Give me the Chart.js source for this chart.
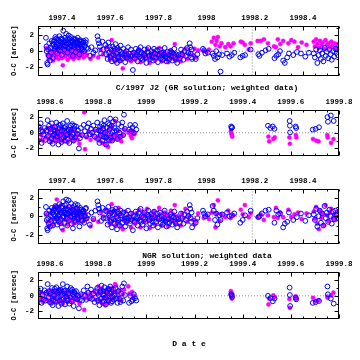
<!DOCTYPE html>
<html><head><meta charset="utf-8">
<script src="https://cdn.jsdelivr.net/npm/chart.js@4"></script>
<style>
html,body{margin:0;padding:0;background:#fff;width:360px;height:360px;overflow:hidden;position:relative}
.pane{position:absolute;left:0;width:360px}
.pane canvas{display:block}
.lbl{position:absolute;font:bold 8px 'Liberation Mono',monospace;white-space:nowrap;transform:translateX(-50%);line-height:8px;color:#000}
</style></head><body>
<div class="pane" id="p1"><canvas id="c1"></canvas></div>
<div class="pane" id="p2"><canvas id="c2"></canvas></div>
<div class="pane" id="p3"><canvas id="c3"></canvas></div>
<div class="pane" id="p4"><canvas id="c4"></canvas></div>
<div class="lbl" style="left:207px;top:84px">C/1997 J2 (GR solution; weighted data)</div>
<div class="lbl" style="left:207px;top:252px">NGR solution; weighted data</div>
<div class="lbl" style="left:189px;top:340px">D a t e</div>
<script>
// ---------- tick labels ----------
const xTicksA = [1997.4, 1997.6, 1997.8, 1998.0, 1998.2, 1998.4];
const xLabelsA = ['1997.4', '1997.6', '1997.8', '1998', '1998.2', '1998.4'];
const xTicksB = [1998.6, 1998.8, 1999.0, 1999.2, 1999.4, 1999.6, 1999.8];
const xLabelsB = ['1998.6', '1998.8', '1999', '1999.2', '1999.4', '1999.6', '1999.8'];
const yTicks = [-2, 0, 2];
const yLabels = ['-2', '0', '2'];
const perihelion = 1998.19;

// ---------- period A (1997.3 - 1998.55): blue open circles ----------
const datesA_blue = [
1997.333,1997.335,1997.338,1997.340,1997.342,1997.345,1997.347,1997.350,1997.352,1997.355,1997.357,1997.360,1997.362,1997.336,
1997.365,1997.368,1997.370,1997.372,1997.375,1997.377,1997.380,1997.382,1997.384,
1997.387,1997.389,1997.392,1997.394,1997.397,1997.399,1997.402,1997.405,1997.407,
1997.410,1997.412,1997.415,1997.417,1997.420,1997.422,1997.425,1997.427,1997.430,
1997.432,1997.435,1997.437,1997.440,1997.442,1997.445,1997.447,1997.450,1997.452,
1997.455,1997.457,1997.460,1997.462,1997.465,1997.467,1997.470,1997.472,1997.475,
1997.478,1997.480,1997.483,1997.486,1997.489,1997.492,1997.495,1997.498,1997.502,
1997.508,1997.515,1997.522,1997.530,1997.538,1997.547,1997.550,1997.553,1997.557,1997.562,1997.568,1997.572,
1997.580,1997.583,1997.586,1997.589,1997.592,1997.595,1997.598,1997.601,1997.604,
1997.607,1997.610,1997.613,1997.616,1997.619,1997.622,1997.625,1997.628,1997.631,
1997.634,1997.637,1997.640,1997.643,1997.646,1997.650,1997.654,1997.658,1997.662,
1997.666,1997.670,1997.674,1997.678,1997.682,1997.686,1997.690,1997.694,1997.698,
1997.702,1997.706,1997.710,1997.714,1997.718,1997.722,1997.726,1997.730,1997.734,
1997.738,1997.742,1997.746,1997.750,1997.754,1997.758,1997.762,1997.766,1997.770,
1997.774,1997.778,1997.782,1997.786,1997.790,1997.794,1997.798,1997.802,1997.806,
1997.810,1997.814,1997.818,1997.822,1997.826,1997.830,1997.834,1997.838,1997.842,
1997.846,1997.850,1997.854,1997.858,1997.862,1997.866,1997.870,1997.874,1997.878,
1997.884,1997.889,1997.894,1997.899,1997.904,1997.909,1997.914,1997.919,1997.924,1997.930,1997.932,1997.934,1997.936,1997.938,1997.940,1997.955,1997.962,
1997.985,1997.990,1997.995,1998.005,1998.025,1998.030,1998.035,1998.040,1998.045,1998.052,1998.058,1998.065,
1998.085,1998.095,1998.105,1998.115,
1998.140,1998.150,1998.160,1998.183,
1998.215,1998.220,1998.230,1998.245,1998.258,
1998.282,1998.290,1998.298,1998.305,1998.318,1998.325,1998.335,1998.342,1998.360,1998.375,1998.392,1998.410,1998.425,
1998.445,1998.450,1998.455,1998.460,1998.465,1998.470,1998.475,1998.480,1998.485,1998.490,1998.495,1998.500,1998.505,1998.510,1998.515,1998.520,1998.525,1998.530,1998.535,1998.540,1998.545,
1997.366,1997.371,1997.376,1997.381,1997.386,1997.391,1997.396,1997.401,1997.406,
1997.411,1997.416,1997.421,1997.426,1997.431,1997.436,1997.441,1997.446,1997.451,
1997.456,1997.461,1997.466,1997.471,1997.476,1997.481,1997.487,1997.493,1997.499,
1997.605,1997.618,1997.632,1997.645,1997.668,1997.684,1997.712,1997.728,
1997.744,1997.760,1997.776,1997.796,1997.816,1997.836,1997.856,1997.872];
const grA_blue = [
1.7,0.6,-1.5,-1.7,0.2,-0.6,1.0,-1.2,0.4,-0.2,1.3,0.8,-0.9,0.0,
0.9,1.4,0.3,1.8,0.6,1.1,-0.3,1.5,0.8,
0.1,1.9,1.2,0.5,1.6,-0.5,0.9,2.6,1.3,
0.2,1.7,0.7,2.2,1.0,-0.2,1.5,2.0,0.4,
1.2,0.8,1.8,0.1,1.4,-0.6,0.9,1.6,0.5,
1.1,-0.1,1.3,0.7,1.7,0.3,1.0,-0.4,1.4,
0.6,1.2,0.2,0.9,1.3,0.0,0.7,1.1,0.4,
0.3,-0.6,0.5,-0.2,0.1,1.9,1.4,1.0,0.6,-0.3,1.2,0.2,
0.8,-0.4,0.3,-1.0,1.1,-0.2,0.5,-0.8,0.2,
-1.3,0.6,-0.5,0.0,-1.1,0.9,-0.3,-1.5,0.4,
-0.7,0.1,-1.2,0.7,-0.4,-0.9,0.3,-0.6,-1.4,
0.0,-0.8,0.5,-0.3,-1.0,0.2,-0.6,-2.4,-0.2,
-0.9,0.3,-0.5,-1.3,0.1,-0.7,0.5,-0.2,-1.1,
-0.4,0.2,-0.8,-1.5,-0.1,0.4,-0.6,-1.0,0.0,
-0.5,-1.2,0.3,-0.3,-0.8,0.1,-1.4,-0.6,0.2,
-0.9,-0.2,-1.1,-0.4,0.4,-0.7,-1.3,-0.1,-0.5,
-1.0,0.0,-0.6,-1.2,-0.3,0.3,-0.8,-0.4,-1.5,
-0.5,-0.9,0.2,-0.4,-1.1,0.0,-0.6,0.4,-0.2,1.0,0.5,-0.3,-0.8,0.2,-1.0,-1.0,-0.4,
0.3,0.1,-0.3,-0.2,-0.3,-0.6,-1.0,0.0,-0.8,-0.4,-2.6,-0.5,
-0.3,-0.7,-0.5,-0.2,
-0.8,-0.6,-0.5,0.2,
-0.4,-0.6,-0.2,0.1,0.3,
-0.9,-0.6,-0.4,0.0,-1.2,-1.5,-0.8,-0.3,-0.5,-0.1,-0.3,-0.7,-0.2,
-0.3,-0.8,0.2,-1.5,-0.5,0.1,-1.0,-0.3,-1.3,0.4,-0.6,-0.1,-0.9,0.2,-0.4,-1.1,0.0,-0.7,0.3,-0.2,-0.5,
1.2,0.6,1.6,0.4,1.3,0.7,1.0,1.5,0.6,
1.1,1.4,0.5,0.9,1.6,1.1,0.6,1.2,0.8,
1.5,1.0,0.5,1.3,0.9,0.4,1.1,0.6,1.4,
-0.6,0.3,-0.9,-0.1,-0.4,-0.7,-0.2,-0.9,
-0.5,-0.2,-0.8,-0.4,-0.6,-0.9,-0.2,-1.1];
const ngrA_blue = [
1.0,0.3,-1.3,-1.5,-0.2,-0.8,0.6,-1.1,0.1,-0.5,0.9,0.4,-1.0,-0.4,
0.2,0.8,-0.4,1.1,-0.2,0.5,-0.9,0.9,0.1,
-0.6,1.3,0.4,-0.3,1.0,-1.2,0.0,1.6,0.6,
-0.7,1.2,0.2,1.8,0.3,-1.0,0.7,1.7,-0.4,
0.5,0.0,1.4,-0.8,0.9,-1.3,0.2,1.1,-0.5,
0.4,-0.6,0.8,-0.1,1.2,-0.3,0.5,-1.1,0.9,
0.0,0.7,-0.5,0.3,0.6,-0.7,0.1,0.8,-0.2,
0.1,-0.9,0.4,-0.3,0.6,1.6,1.2,0.8,0.4,-0.5,0.9,-0.2,
0.6,-0.2,0.5,-0.9,1.0,0.1,0.3,-0.6,0.4,
-1.2,0.7,-0.3,0.2,-0.8,0.8,-0.1,-1.4,0.5,
-0.4,0.3,-1.0,0.6,-0.2,-0.7,0.4,-0.4,-1.1,
0.2,-0.5,0.6,-0.1,-0.8,0.3,-0.3,-1.5,0.0,
-0.6,0.5,-0.3,-1.0,0.3,-0.4,0.8,0.0,-0.9,
-0.1,0.4,-0.6,-1.3,0.2,0.6,-0.4,-0.8,0.2,
-0.2,-1.0,0.5,-0.1,-0.6,0.3,-1.2,-0.3,0.4,
-0.7,0.0,-0.9,-0.2,0.6,-0.5,-1.1,0.1,-0.3,
-0.7,0.2,-0.4,-0.9,-0.1,0.5,-0.6,-0.2,-1.2,
-0.3,-0.7,0.3,-0.2,-0.8,0.2,-0.4,0.5,0.0,1.2,0.8,-0.2,-0.6,0.4,-1.2,-0.7,-0.2,
0.6,0.3,0.0,0.2,1.1,0.6,-0.4,0.3,-0.9,0.1,-0.4,0.2,
0.4,0.0,0.1,0.3,
-0.7,-0.4,0.1,0.6,
-0.1,0.0,0.3,0.6,0.7,
-0.7,0.6,0.2,0.3,-1.2,-0.8,-0.6,0.4,-0.4,-0.1,0.3,-0.5,0.1,
0.2,-0.4,0.8,-1.1,0.0,0.6,-0.7,0.3,-1.0,1.1,-0.2,0.4,-0.6,0.7,0.0,-0.8,0.5,-0.3,0.6,0.1,-0.2,
0.6,0.0,1.0,-0.2,0.7,0.2,0.4,1.1,-0.1,
0.4,0.8,-0.2,0.3,1.0,0.6,0.0,0.7,0.2,
1.3,0.4,-0.2,0.7,0.3,-0.4,0.5,0.0,0.9,
-0.4,0.5,-0.7,0.1,-0.2,-0.5,0.0,-0.6,
-0.3,0.0,-0.6,-0.2,-0.4,-0.7,0.0,-0.8];

// ---------- period A: magenta filled dots ----------
const datesA_mag = [
1997.334,1997.339,1997.344,1997.349,1997.354,1997.359,1997.363,
1997.367,1997.371,1997.374,1997.378,1997.381,1997.385,1997.388,1997.392,1997.395,
1997.399,1997.403,1997.406,1997.409,1997.413,1997.416,1997.420,1997.423,1997.427,
1997.430,1997.434,1997.437,1997.441,1997.444,1997.448,1997.451,1997.455,1997.458,
1997.462,1997.465,1997.469,1997.472,1997.476,1997.480,1997.484,1997.490,1997.496,
1997.503,1997.518,1997.530,
1997.550,1997.560,1997.570,1997.585,1997.606,
1997.593,1997.598,1997.603,1997.610,1997.615,1997.620,1997.625,1997.630,1997.635,1997.640,
1997.645,1997.652,1997.657,1997.663,1997.668,1997.674,1997.680,1997.686,1997.692,1997.698,
1997.704,1997.709,1997.715,1997.720,1997.726,1997.731,1997.737,1997.742,1997.748,1997.753,1997.759,
1997.764,1997.770,1997.775,1997.781,1997.786,1997.792,1997.797,1997.803,1997.808,1997.814,1997.819,
1997.825,1997.830,1997.836,1997.841,1997.847,1997.852,1997.858,1997.863,1997.868,1997.873,1997.878,
1997.886,1997.892,1997.898,1997.905,1997.912,1997.920,1997.928,1997.945,1997.950,1997.957,1997.965,
1997.988,1998.000,1998.010,1998.022,1998.030,1998.037,1998.042,1998.047,1998.055,1998.062,
1998.078,1998.090,1998.100,1998.112,
1998.142,1998.150,1998.159,1998.175,1998.183,
1998.212,1998.225,1998.238,1998.255,
1998.280,1998.288,1998.296,1998.306,1998.318,1998.340,1998.352,1998.365,1998.380,1998.395,1998.415,
1998.445,1998.450,1998.455,1998.460,1998.466,1998.471,1998.477,1998.482,1998.488,1998.494,1998.500,1998.506,1998.512,1998.518,1998.524,1998.530,1998.536,1998.542,1998.547];
const grA_mag = [
0.4,-0.5,-1.0,0.1,-0.7,-0.2,-1.2,
-0.3,0.2,-0.8,-0.4,0.3,-1.0,-0.1,-0.6,0.5,
-0.9,-1.8,-0.2,0.1,-0.7,-0.3,0.4,-1.1,-0.5,
0.0,-0.8,-0.2,0.3,-0.6,-1.0,-0.1,0.2,-0.7,
-0.4,0.1,-0.9,-0.3,-0.6,0.0,-0.4,-0.8,-0.2,
-0.5,-1.0,-0.6,
-0.8,0.2,-0.4,0.5,1.4,
-0.6,-1.1,-0.2,-0.8,0.1,-1.3,-0.5,-0.9,0.3,-0.4,
-1.2,-2.2,-0.7,-0.1,-1.0,-0.5,-0.8,-1.3,-0.2,-0.6,
-1.1,-0.3,-0.8,0.2,-1.4,-0.6,-0.2,-1.0,-0.5,0.3,-0.9,
-1.5,-0.4,-0.7,0.0,-1.2,-0.5,-0.9,0.4,-0.3,-1.3,-0.6,
-0.1,-1.0,-0.4,-1.4,-0.7,0.1,-0.9,-0.3,0.9,-1.1,-0.5,
-0.8,-1.3,-0.2,-0.6,0.3,-1.0,-0.4,-0.5,0.3,-0.8,0.1,
0.0,-0.1,0.2,1.2,1.7,0.8,1.3,1.8,0.6,1.0,
0.5,0.9,0.6,1.0,
1.2,1.1,0.8,0.2,1.0,
1.3,1.3,1.5,1.0,
0.6,0.5,1.5,0.9,1.3,1.0,1.4,1.2,0.5,1.1,0.8,
1.2,0.6,1.5,0.9,0.4,1.3,0.7,1.1,0.3,1.4,0.8,1.0,0.5,1.2,0.7,1.0,0.4,0.9,0.6];
const ngrA_mag = [
0.2,-0.6,-1.1,0.3,-0.4,0.6,-0.9,
0.5,1.0,-0.3,1.8,0.9,-0.7,0.4,-0.2,1.2,
-0.8,-1.5,0.3,0.7,-0.4,0.1,1.0,-0.9,-0.1,
0.6,-0.5,0.2,0.8,-0.3,-0.8,0.4,0.7,-0.4,
0.0,0.5,-0.6,0.2,-0.2,0.4,-0.1,-0.5,0.3,
-0.3,-1.1,-0.4,
-0.6,0.5,0.0,0.7,1.3,
-0.2,-0.8,0.4,-0.5,0.6,-1.0,0.1,-0.6,0.9,0.2,
-1.1,-1.4,-0.3,0.5,-0.7,0.0,-0.4,-1.2,0.3,-0.3,
-0.8,0.3,-0.4,0.7,-1.2,-0.1,0.4,-0.6,0.0,0.8,-0.5,
-1.3,0.1,-0.3,0.5,-0.9,0.0,-0.4,0.9,0.2,-1.0,-0.2,
0.4,-0.6,0.1,-1.1,-0.3,0.6,-0.5,0.2,1.2,-0.7,0.0,
-0.4,-1.0,0.3,-0.2,0.8,-0.6,0.0,-0.4,-0.9,-0.5,0.3,
-0.2,0.1,-0.3,0.4,1.2,-1.2,0.3,1.7,-0.5,0.2,
-0.1,0.6,-0.2,0.1,
0.7,0.2,1.2,-0.1,0.3,
-0.1,0.2,-0.4,0.1,
-0.1,0.9,-0.2,0.4,-0.1,0.7,-0.1,0.2,0.4,-0.3,0.3,
0.5,-0.3,1.0,-0.8,-1.4,0.6,-0.2,0.3,-1.0,1.2,0.1,-0.5,0.4,0.8,-0.2,0.2,-0.4,0.5,0.0];

// ---------- period B (1998.55 - 1999.8): blue open circles ----------
const datesB_blue = [
1998.553,1998.557,1998.561,1998.565,1998.569,1998.573,1998.577,1998.581,1998.585,
1998.590,1998.593,1998.596,1998.599,1998.602,1998.605,1998.608,1998.611,1998.614,
1998.617,1998.620,1998.623,1998.626,1998.629,1998.632,1998.635,1998.638,1998.641,
1998.644,1998.647,1998.650,1998.653,1998.656,1998.659,1998.662,1998.665,1998.668,
1998.671,1998.674,1998.677,1998.680,1998.683,1998.686,1998.689,1998.692,1998.695,
1998.698,1998.701,1998.704,1998.708,1998.712,
1998.716,1998.720,1998.724,1998.728,1998.733,
1998.740,1998.745,1998.750,1998.755,1998.760,1998.765,1998.770,1998.775,1998.780,1998.785,1998.790,
1998.796,1998.799,1998.802,1998.805,1998.808,1998.811,1998.814,1998.817,1998.820,
1998.823,1998.826,1998.829,1998.832,1998.835,1998.838,1998.841,1998.844,
1998.847,1998.850,1998.853,1998.856,1998.859,1998.862,1998.865,1998.868,
1998.872,1998.876,1998.880,1998.884,1998.888,1998.892,1998.896,1998.900,1998.904,1998.907,1998.911,
1998.928,1998.933,1998.938,1998.943,1998.948,1998.953,1998.958,
1999.352,1999.354,1999.356,1999.505,1999.515,1999.525,1999.532,1999.595,1999.596,1999.597,1999.620,1999.622,1999.691,1999.703,1999.717,1999.752,1999.754,1999.766,1999.778,
1998.600,1998.612,1998.624,1998.637,1998.649,1998.661,1998.673,1998.687,
1998.700,1998.810,1998.822,1998.834,1998.846,1998.858,1998.866];
const grB_blue = [
0.8,-0.6,1.2,-1.3,0.2,-0.2,0.6,-0.9,0.3,
1.6,-0.4,0.9,-1.1,0.1,-0.7,1.2,-1.4,0.4,
-0.2,0.7,-0.9,1.3,-0.5,0.0,-1.5,0.6,-0.3,
1.0,-1.2,0.3,1.2,-0.6,0.2,-1.0,0.8,-0.3,
1.5,-0.8,0.4,-1.3,0.1,0.9,-0.5,1.1,-0.2,
-1.0,0.5,-0.6,0.8,-0.1,
0.3,-2.0,-0.7,0.6,-0.3,
1.0,0.2,-0.4,0.7,1.2,-0.2,0.5,0.0,0.9,-0.5,0.4,
1.3,-0.8,0.3,-1.3,0.8,-0.3,1.1,-1.0,0.5,
-0.5,1.6,0.0,-1.5,0.7,-0.2,1.2,-0.9,
0.4,1.8,-0.6,0.9,0.1,1.4,-0.4,0.6,
1.7,0.3,-0.8,1.1,0.0,-0.5,0.8,1.3,-0.3,2.3,0.5,
0.4,1.0,0.2,0.7,0.0,1.0,0.4,
0.8,0.6,0.7,0.9,0.6,0.8,0.5,1.5,0.9,0.05,0.8,0.6,0.4,0.5,0.7,2.0,1.4,2.2,1.5,
0.5,-0.4,0.3,1.0,-0.8,0.6,-0.2,0.4,
0.9,0.2,0.9,-0.6,1.0,-1.0,0.2];
const ngrB_blue = [
0.5,-0.4,0.9,-0.9,0.1,-0.5,0.7,-0.6,0.4,
1.5,-0.2,0.6,-0.8,0.3,-0.9,1.0,-1.2,0.2,
0.0,0.9,-0.7,1.1,-0.3,0.4,-1.3,0.5,-0.6,
0.8,-1.0,0.1,1.5,-0.4,0.6,-1.1,0.7,-0.1,
1.2,-0.6,0.3,-1.0,-0.2,1.0,-0.7,0.8,0.2,
-1.3,0.4,-0.3,0.6,-0.4,
0.0,-1.6,-0.5,0.2,-0.6,
0.7,0.0,-0.5,1.2,0.4,-0.3,0.8,-0.4,0.3,-0.8,0.6,
1.0,-0.6,0.1,-1.2,0.6,-0.4,1.3,-0.8,0.2,
-0.7,1.1,-0.2,-1.1,0.5,0.0,0.9,-0.6,
0.3,1.2,-0.9,0.5,-0.1,0.8,-0.5,0.2,
1.0,-0.3,-0.9,0.6,-0.4,-0.8,0.3,1.2,-0.6,1.6,0.1,
-0.9,0.0,-0.7,-0.5,0.2,-0.3,-0.6,
0.2,0.05,-0.15,0.0,-0.3,-0.7,-0.35,1.05,0.1,-1.3,-0.25,-0.45,-0.9,-0.8,-0.65,1.2,0.2,-0.35,-1.0,
0.3,-0.6,0.6,0.7,-0.5,0.3,-0.4,0.6,
0.5,0.4,0.6,-0.3,0.8,-0.7,0.0];

// ---------- period B: magenta filled dots ----------
const datesB_mag = [
1998.551,1998.555,1998.560,1998.564,1998.570,1998.576,1998.583,
1998.589,1998.593,1998.597,1998.601,1998.605,1998.609,1998.613,1998.617,1998.621,1998.625,
1998.629,1998.633,1998.637,1998.641,1998.645,1998.649,1998.653,1998.657,1998.661,1998.665,
1998.669,1998.673,1998.677,1998.681,1998.685,1998.689,1998.693,1998.697,1998.701,1998.705,1998.709,
1998.716,1998.722,1998.728,1998.742,1998.745,
1998.752,1998.760,1998.768,1998.776,1998.784,1998.790,
1998.797,1998.801,1998.805,1998.809,1998.813,1998.817,1998.821,1998.825,1998.829,
1998.833,1998.837,1998.841,1998.845,1998.849,1998.853,1998.857,1998.861,1998.865,
1998.870,1998.874,1998.879,1998.885,1998.890,1998.896,1998.902,1998.908,
1998.925,1998.930,1998.935,1998.940,1998.945,1998.950,
1999.351,1999.353,1999.355,1999.357,1999.507,1999.510,1999.527,1999.533,1999.594,1999.596,1999.621,1999.623,1999.692,1999.705,1999.715,1999.751,1999.753,1999.767,1999.777];
const grB_mag = [
0.3,-0.9,0.5,-0.3,-1.0,0.1,-0.6,
0.6,-0.8,-0.2,0.4,-1.2,-0.4,0.8,-0.6,0.0,-1.0,
0.3,-0.5,-0.1,-0.9,0.5,-0.3,-1.1,0.2,-0.7,-0.2,
0.6,-1.2,-0.4,0.1,-0.8,0.4,-0.5,-1.0,0.2,-0.6,-0.2,
-0.9,-1.4,-0.3,2.6,-2.1,
-0.6,0.1,-0.9,-0.3,0.3,-0.7,
-0.5,0.3,-1.0,-0.2,0.6,-1.3,-0.6,0.1,-1.5,
-0.8,-0.3,-1.8,0.4,-1.1,-0.5,0.8,-0.9,-0.2,
1.5,-0.4,-0.8,0.2,-0.6,-1.1,-0.3,0.4,
0.0,0.2,-0.4,-0.7,0.1,-0.2,
0.2,-0.1,-0.3,-0.5,-0.5,-1.1,-0.8,-0.6,-0.6,-1.4,-0.3,-0.6,-0.8,-1.0,-1.1,-0.3,-0.6,-1.3,-0.8];
const ngrB_mag = [
0.2,-0.5,0.4,-0.2,-0.8,0.3,-0.4,
0.5,-0.6,0.1,0.7,-0.9,-0.3,0.6,-0.2,0.3,-0.8,
0.5,-0.4,0.2,-0.6,0.8,0.0,-1.0,0.4,-0.5,0.1,
0.6,-0.8,-0.1,0.4,-0.6,0.2,-0.3,-0.7,0.5,-0.4,0.0,
-0.6,-1.0,0.1,-1.8,-0.3,
0.2,-0.4,0.3,-0.1,0.5,-0.5,
0.2,1.2,-0.6,0.4,0.9,-1.0,-0.2,0.6,-1.2,
-0.3,0.3,-0.9,0.8,-0.5,0.1,1.0,-0.4,0.5,
1.5,1.3,0.4,-0.2,0.7,-0.6,0.2,0.8,
1.2,0.3,0.2,0.5,-0.3,0.0,
0.6,0.4,-0.35,0.2,-1.1,-0.35,0.05,-0.15,-0.4,-1.55,-0.05,-0.35,-0.25,-0.65,-0.55,-0.1,-0.25,0.05,0.4];

// ---------- build ----------
const pts = (xs, ys) => xs.map((x, i) => ({x: x, y: ys[i]})).filter(p => p.y !== undefined);
const FONT = "'Liberation Mono', 'DejaVu Sans Mono', monospace";
const BLUE = '#0000ff', MAG = '#ff00ff';

const framePlugin = {
  id: 'frame',
  afterDraw(chart) {
    const {ctx, chartArea: a, scales: {x, y}} = chart;
    const L = Math.round(a.left) + 0.5, R = Math.round(a.right) - 0.5;
    const T = Math.round(a.top) + 0.5, B = Math.round(a.bottom) - 0.5;
    ctx.save();
    ctx.strokeStyle = '#000';
    ctx.lineWidth = 1;
    ctx.strokeRect(L, T, R - L, B - T);
    ctx.beginPath();
    const k0 = Math.ceil(x.min * 20 - 1e-6), k1 = Math.floor(x.max * 20 + 1e-6);
    for (let k = k0; k <= k1; k++) {
      const len = (k % 4 === 0) ? 4 : 2;
      const px = Math.round(x.getPixelForValue(k / 20)) + 0.5;
      ctx.moveTo(px, T); ctx.lineTo(px, T + len);
      ctx.moveTo(px, B); ctx.lineTo(px, B - len);
    }
    for (let k = Math.ceil(y.min); k <= Math.floor(y.max); k++) {
      const len = (k % 2 === 0) ? 4 : 2;
      const py = Math.round(y.getPixelForValue(k)) + 0.5;
      ctx.moveTo(L, py); ctx.lineTo(L + len, py);
      ctx.moveTo(R, py); ctx.lineTo(R - len, py);
    }
    ctx.stroke();
    ctx.restore();
  }
};

const panels = [
  {id: 'c1', div: 'p1', top: 26, bottom: 81, xMin: 1997.3, xMax: 1998.55, yMin: -3.1, yMax: 3.2,
   xt: xTicksA, xl: xLabelsA, bx: datesA_blue, by: grA_blue, mx: datesA_mag, my: grA_mag, peri: true},
  {id: 'c2', div: 'p2', top: 110, bottom: 161, xMin: 1998.55, xMax: 1999.8, yMin: -2.9, yMax: 2.9,
   xt: xTicksB, xl: xLabelsB, bx: datesB_blue, by: grB_blue, mx: datesB_mag, my: grB_mag, peri: false},
  {id: 'c3', div: 'p3', top: 189, bottom: 249, xMin: 1997.3, xMax: 1998.55, yMin: -2.93, yMax: 2.93,
   xt: xTicksA, xl: xLabelsA, bx: datesA_blue, by: ngrA_blue, mx: datesA_mag, my: ngrA_mag, peri: true},
  {id: 'c4', div: 'p4', top: 272, bottom: 324, xMin: 1998.55, xMax: 1999.8, yMin: -2.9, yMax: 3.05,
   xt: xTicksB, xl: xLabelsB, bx: datesB_blue, by: ngrB_blue, mx: datesB_mag, my: ngrB_mag, peri: false}
];

const AXH = 26, AXW = 38, PADR = 21, PADB = 3;

panels.forEach(p => {
  const cv = document.getElementById(p.id);
  const h = p.bottom - p.top + AXH + PADB;
  cv.width = 360; cv.height = h;
  cv.style.width = '360px'; cv.style.height = h + 'px';
  document.getElementById(p.div).style.top = (p.top - AXH) + 'px';

  const datasets = [
    {data: pts(p.bx, p.by), pointStyle: 'circle', pointRadius: 2.4, pointBorderWidth: 1,
     pointBorderColor: BLUE, pointBackgroundColor: 'rgba(0,0,0,0)', borderColor: BLUE, showLine: false},
    {data: pts(p.mx, p.my), pointStyle: 'circle', pointRadius: 2.1, pointBorderWidth: 0.4,
     pointBorderColor: MAG, pointBackgroundColor: MAG, borderColor: MAG, showLine: false},
    {data: [{x: p.xMin, y: 0}, {x: p.xMax, y: 0}], showLine: true, borderColor: '#8c8c8c',
     borderWidth: 1, borderDash: [1, 2], pointRadius: 0}
  ];
  if (p.peri) {
    datasets.push({data: [{x: perihelion, y: p.yMin}, {x: perihelion, y: p.yMax}], showLine: true,
      borderColor: '#8c8c8c', borderWidth: 1, borderDash: [1, 2], pointRadius: 0});
  }

  new Chart(cv, {
    type: 'scatter',
    data: {datasets},
    plugins: [framePlugin],
    options: {
      responsive: false, animation: false, devicePixelRatio: 1, events: [],
      layout: {padding: {left: 0, right: PADR, top: 0, bottom: PADB}},
      plugins: {legend: {display: false}, tooltip: {enabled: false}},
      scales: {
        x: {
          type: 'linear', position: 'top', min: p.xMin, max: p.xMax,
          grid: {display: false, drawTicks: false}, border: {display: false},
          afterBuildTicks: s => { s.ticks = p.xt.map(v => ({value: v})); },
          afterFit: s => { s.height = AXH; },
          ticks: {color: '#000', padding: 3, maxRotation: 0, autoSkip: false,
            font: {family: FONT, size: 7.5, weight: 'bold'},
            callback: (v, i) => p.xl[i]}
        },
        y: {
          type: 'linear', position: 'left', min: p.yMin, max: p.yMax,
          grid: {display: false, drawTicks: false}, border: {display: false},
          afterBuildTicks: s => { s.ticks = yTicks.map(v => ({value: v})); },
          afterFit: s => { s.width = AXW; },
          ticks: {color: '#000', padding: 4, font: {family: FONT, size: 7.5, weight: 'bold'},
            callback: (v, i) => yLabels[i]},
          title: {display: true, text: 'O-C [arcsec]', color: '#000', padding: {top: 10, bottom: 0},
            font: {family: FONT, size: 7, weight: 'bold'}}
        }
      }
    }
  });
});
</script>
</body></html>
